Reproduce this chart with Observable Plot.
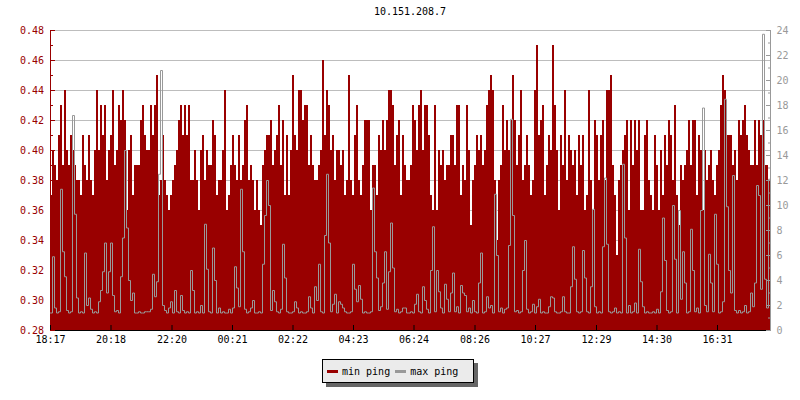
<!DOCTYPE html>
<html><head><meta charset="utf-8">
<script src="https://cdn.jsdelivr.net/npm/d3@7"></script>
<script src="https://cdn.jsdelivr.net/npm/@observablehq/plot@0.6"></script>
<style>
body{margin:0;background:#fff;}
#wrap{position:relative;width:800px;height:400px;font-family:"DejaVu Sans Mono",monospace;overflow:hidden;}
#wrap svg{position:absolute;left:0;top:0;}
#title{position:absolute;top:6px;left:0;width:820px;text-align:center;font-size:10px;color:#000;}
#legend{position:absolute;left:322px;top:359px;width:152px;height:24px;box-sizing:border-box;border:1px solid #000;background:#ebebeb;box-shadow:4px 4px 0 #666;display:flex;align-items:center;font-size:10px;padding-left:4px;color:#000;}
#legend i{display:inline-block;width:11px;height:3px;margin-right:4px;}
#legend span{margin-right:5px;}
</style></head>
<body><div id="wrap"><div id="title">10.151.208.7</div></div>
<script>
const title = "10.151.208.7";
const seriesNames = ["min ping", "max ping"];
const seriesColors = ["#990000", "#999999"];
const tickLabels = ["18:17","20:18","22:20","00:21","02:22","04:23","06:24","08:26","10:27","12:29","14:30","16:31"];
const leftTicks = [0.28,0.30,0.32,0.34,0.36,0.38,0.40,0.42,0.44,0.46,0.48];
const leftMinor = [0.29,0.31,0.33,0.35,0.37,0.39,0.41,0.43,0.45,0.47];
const rightTicks = [0,2,4,6,8,10,12,14,16,18,20,22,24];
const rightMinor = [1,3,5,7,9,11,13,15,17,19,21,23];
const startLabel = "18:17";
const stepMinutes = 4;

const minPing = [
0.37,0.40,0.39,0.38,0.41,0.43,0.39,0.44,0.40,0.39,
0.41,0.40,0.39,0.38,0.38,0.37,0.41,0.39,0.38,0.41,
0.38,0.37,0.40,0.44,0.40,0.43,0.41,0.43,0.38,0.40,
0.41,0.44,0.39,0.40,0.43,0.42,0.44,0.42,0.36,0.40,
0.41,0.37,0.39,0.39,0.39,0.42,0.43,0.41,0.40,0.40,
0.43,0.41,0.43,0.45,0.37,0.38,0.41,0.38,0.37,0.36,
0.37,0.38,0.39,0.40,0.42,0.43,0.41,0.43,0.41,0.43,
0.38,0.38,
0.40,0.38,0.36,0.40,0.41,0.38,0.40,0.39,0.39,0.42,
0.41,0.37,0.38,0.38,0.40,0.44,0.36,0.37,0.39,0.41,
0.39,0.38,0.41,0.38,0.39,0.42,0.43,0.38,0.39,0.38,
0.36,0.38,0.36,0.35,0.39,0.40,0.41,0.41,0.42,0.39,
0.40,0.41,0.43,0.39,0.42,0.37,0.41,0.37,0.40,0.45,
0.41,0.40,0.44,0.44,0.42,0.43,0.43,0.39,0.41,0.39,
0.38,0.38,0.39,0.40,0.46,0.41,0.44,0.43,0.40,0.41,
0.38,0.40,
0.40,0.39,0.40,0.37,0.38,0.45,0.38,0.37,0.41,0.43,
0.38,0.37,0.39,0.42,0.42,0.42,0.36,0.39,0.39,0.37,
0.41,0.40,0.42,0.40,0.42,0.44,0.44,0.43,0.39,0.41,
0.42,0.37,0.41,0.39,0.38,0.38,0.39,0.43,0.42,0.40,
0.43,0.44,0.40,0.43,0.43,0.41,0.37,0.36,0.43,0.36,
0.40,0.39,0.40,0.38,0.39,0.39,0.41,0.41,0.39,0.43,
0.43,0.37,0.39,0.38,0.43,0.40,0.35,0.38,0.39,0.41,
0.40,0.41,
0.39,0.40,0.43,0.44,0.45,0.44,0.38,0.34,0.38,0.39,
0.43,0.40,0.42,0.40,0.42,0.45,0.42,0.39,0.41,0.44,
0.38,0.39,0.41,0.39,0.37,0.38,0.44,0.47,0.41,0.42,
0.43,0.37,0.39,0.41,0.40,0.47,0.43,0.40,0.36,0.41,
0.39,0.44,0.38,0.41,0.40,0.39,0.40,0.37,0.41,0.39,
0.41,0.36,0.37,0.44,0.38,0.36,0.42,0.41,0.38,0.41,
0.42,0.38,0.44,0.44,0.45,0.39,0.37,0.33,0.38,0.39,
0.40,0.41,
0.42,0.36,0.42,0.39,0.42,0.40,0.42,0.36,0.36,0.41,
0.42,0.38,0.37,0.36,0.41,0.39,0.36,0.40,0.37,0.41,
0.39,0.42,0.41,0.38,0.43,0.37,0.35,0.39,0.38,0.39,
0.40,0.42,0.39,0.42,0.42,0.37,0.41,0.40,0.36,0.40,
0.38,0.39,0.40,0.38,0.37,0.39,0.40,0.43,0.45,0.44,
0.41,0.41,0.41,0.39,0.40,0.38,0.42,0.41,0.42,0.43,
0.41,0.40,0.39,0.39,0.42,0.39,0.42,0.41,0.42,0.39,
0.39,0.38
];

const maxPing = [
1.4,5.9,1.8,1.4,1.5,11.3,6.3,4.3,1.6,1.4,
1.5,17.2,9.3,2.6,1.4,1.5,1.4,6.2,2.0,2.6,
1.7,1.4,1.5,1.4,2.3,3.2,4.7,7.0,3.0,4.7,
7.0,2.8,1.5,1.6,1.4,4.3,7.4,14.4,8.2,4.0,
2.4,3.0,1.4,1.4,1.5,1.4,1.4,1.5,1.5,1.5,
1.7,4.5,2.7,3.9,12.5,20.8,2.0,1.6,1.4,1.8,
2.3,1.4,3.2,1.5,1.4,2.8,1.6,1.4,1.5,1.4,
4.8,3.2,
1.4,1.5,1.4,2.0,1.4,8.5,4.9,1.5,1.4,6.6,
4.0,1.4,1.8,1.4,1.5,1.4,1.4,1.7,1.4,1.8,
5.1,3.4,1.9,11.3,6.3,1.7,1.4,1.5,1.8,2.4,
1.4,1.4,1.5,1.4,5.3,9.2,12.0,10.0,1.6,3.2,
2.3,1.5,1.4,1.7,6.9,4.2,1.5,1.4,1.4,1.5,
2.3,1.8,1.4,1.5,1.4,1.4,1.5,2.7,1.8,1.4,
3.5,2.4,5.3,1.5,1.4,7.6,12.5,7.0,1.5,2.1,
2.9,1.4,
2.3,2.1,1.8,1.5,1.4,1.4,1.5,5.3,3.3,2.3,
3.6,2.5,1.4,1.5,1.4,1.4,1.5,11.4,6.3,4.2,
1.6,1.9,3.8,6.3,1.7,4.7,8.6,5.0,1.5,1.7,
1.4,1.5,1.8,1.8,1.4,1.4,1.5,1.4,2.1,2.9,
1.5,1.4,3.5,2.4,1.7,1.4,4.8,8.3,1.5,4.8,
3.1,1.8,1.4,3.7,2.5,1.5,3.0,4.6,1.5,1.9,
1.4,3.6,3.0,2.8,1.5,1.8,1.4,2.4,1.5,1.4,
3.8,6.2,
1.4,1.5,2.7,1.8,2.0,1.4,10.9,6.0,1.5,1.8,
1.4,1.7,1.8,6.8,16.9,9.2,1.5,1.6,1.4,1.5,
4.8,7.2,1.7,1.4,1.5,2.1,1.4,1.9,2.5,1.4,
1.5,1.4,1.4,1.9,2.7,2.6,1.5,1.4,1.4,1.5,
2.7,1.5,1.4,1.4,3.5,6.7,4.1,1.5,1.4,1.5,
6.4,4.2,1.5,1.4,3.5,9.7,1.9,1.4,1.5,1.4,
6.7,12.2,6.9,1.5,1.4,1.5,1.8,1.4,1.5,1.4,
13.3,7.4,
1.4,2.0,1.4,1.5,2.2,1.4,6.5,3.9,1.9,1.4,
1.5,1.4,1.4,1.5,1.4,1.7,1.4,3.1,9.0,5.6,
1.6,1.4,1.5,10.0,5.7,1.4,9.6,2.5,6.3,3.8,
1.4,1.5,8.1,4.8,1.5,1.8,1.4,9.6,17.8,2.0,
1.5,6.1,3.8,1.5,9.3,5.3,1.4,1.5,2.3,18.5,
9.9,4.8,3.0,12.4,1.6,1.4,1.6,1.4,1.5,2.0,
1.4,1.5,3.0,1.9,3.8,11.6,10.8,3.3,23.7,4.1,
1.8,12.1
];

const toDate = s => { const [h, m] = s.split(":").map(Number); return new Date(Date.UTC(2024, 0, h < 18 ? 2 : 1, h, m)); };
const t0 = toDate(startLabel);
const tickDates = tickLabels.map(toDate);
const stepMs = stepMinutes * 60000;
const rows = minPing.map((v, i) => ({t: new Date(+t0 + i * stepMs), min: v, max: maxPing[i]}));
const tEnd = new Date(+t0 + rows.length * stepMs);
// close the last step so it reaches the end of the domain
const stepRows = rows.concat([{...rows[rows.length - 1], t: tEnd}]);

const common = {
  width: 800, height: 400,
  marginLeft: 50, marginRight: 30, marginTop: 30, marginBottom: 70,
  style: {background: "transparent", fontFamily: "'DejaVu Sans Mono', monospace", fontSize: "10px"}
};

const p1 = Plot.plot({
  ...common,
  x: {type: "utc", domain: [t0, tEnd]},
  y: {domain: [leftTicks[0], leftTicks[leftTicks.length - 1]]},
  marks: [
    Plot.gridY(leftTicks, {stroke: "#bdbdbd", strokeOpacity: 1}),
    Plot.areaY(stepRows, {x: "t", y1: leftTicks[0], y2: "min", curve: "step-after", fill: seriesColors[0], shapeRendering: "crispEdges"}),
    Plot.ruleX([t0], {stroke: seriesColors[0]}),
    Plot.ruleY([leftTicks[0]], {stroke: "#000"}),
    Plot.axisY(leftTicks, {anchor: "left", tickSize: -5, tickPadding: 11.5, tickFormat: d => d.toFixed(2), color: seriesColors[0], label: null}),
    Plot.axisY(leftMinor, {anchor: "left", tickSize: -3, tickFormat: () => "", color: seriesColors[0], label: null}),
    Plot.axisX(tickDates, {anchor: "bottom", tickSize: -5, tickPadding: 10, tickFormat: d3.utcFormat("%H:%M"), color: "#000", label: null})
  ]
});

const p2 = Plot.plot({
  ...common,
  x: {type: "utc", domain: [t0, tEnd], axis: null},
  y: {domain: [rightTicks[0], rightTicks[rightTicks.length - 1]]},
  marks: [
    Plot.line(stepRows, {x: "t", y: "max", curve: "step-after", stroke: seriesColors[1], strokeWidth: 1, strokeLinejoin: "miter"}),
    Plot.ruleX([tEnd], {stroke: seriesColors[1]}),
    Plot.axisY(rightTicks, {anchor: "right", tickSize: -5, tickPadding: 11, color: seriesColors[1], label: null}),
    Plot.axisY(rightMinor, {anchor: "right", tickSize: -3, tickFormat: () => "", color: seriesColors[1], label: null})
  ]
});

const wrap = document.getElementById("wrap");
wrap.appendChild(p1);
wrap.appendChild(p2);
document.getElementById("title").textContent = title;

const legend = document.createElement("div");
legend.id = "legend";
seriesNames.forEach((name, i) => {
  const sw = document.createElement("i");
  sw.style.background = seriesColors[i];
  const tx = document.createElement("span");
  tx.textContent = name;
  legend.appendChild(sw);
  legend.appendChild(tx);
});
wrap.appendChild(legend);
</script>
</body></html>
